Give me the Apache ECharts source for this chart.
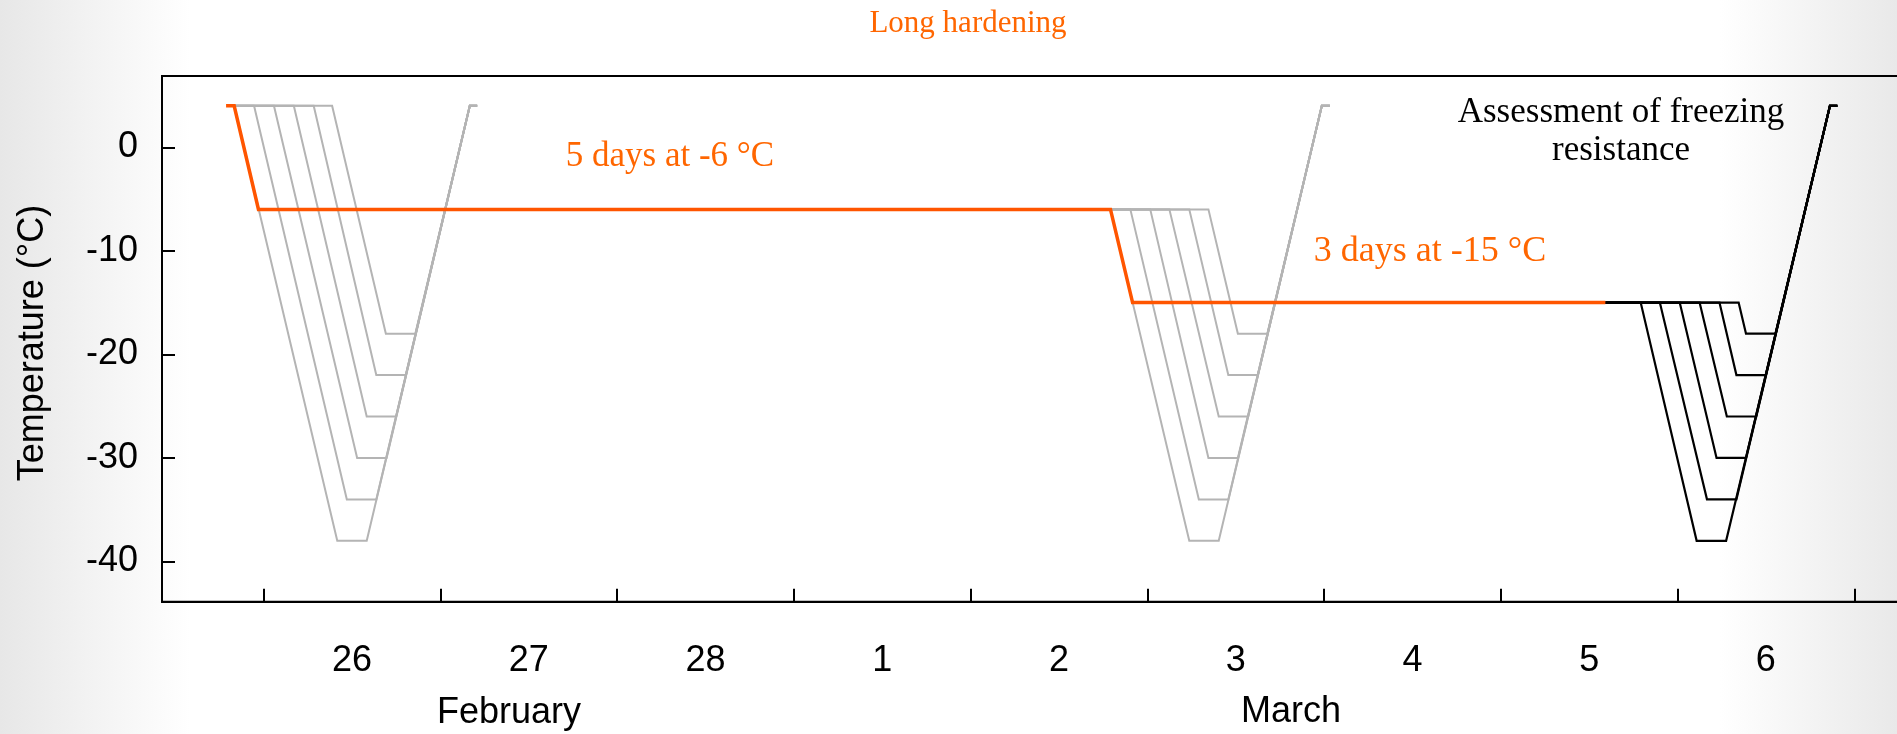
<!DOCTYPE html>
<html>
<head>
<meta charset="utf-8">
<title>Long hardening – temperature programme</title>
<script src="https://cdn.jsdelivr.net/npm/echarts@6/dist/echarts.min.js"></script>
<style>
  html, body { margin: 0; padding: 0; }
  body {
    width: 1897px; height: 734px; overflow: hidden;
    background: linear-gradient(to right, #e7e7e7 0px, #ffffff 190px, #ffffff 1720px, #e9e9e9 1897px);
  }
  #chart { width: 1897px; height: 734px; }
</style>
</head>
<body>
<div id="chart"></div>
<script>
// Time is in hours from 26 February 00:00, temperature in °C.

// Day boundaries (ticks) and day-centre label positions
const dayBoundaries = [0, 24, 48, 72, 96, 120, 144, 168, 192, 216];
const dayCentres = [12, 36, 60, 84, 108, 132, 156, 180, 204];
const dayLabels = ['26', '27', '28', '1', '2', '3', '4', '5', '6'];
const tempTicks = [-40, -30, -20, -10, 0];

// Hardening programme: 4 °C, then 5 days at -6 °C, then 3 days at -15 °C
const hardening = [[-5.1, 4], [-4.0, 4], [-0.7, -6], [115.0, -6], [118.0, -15], [182.2, -15]];

// First freezing test series (from 4 °C), target minima -38 … -18 °C
const test1 = [
  [[-4.0, 4], [10.0, -38], [14.0, -38], [28.0, 4], [29.0, 4]],
  [[-4.0, 4], [-1.3, 4], [11.3, -34], [15.3, -34], [28.0, 4], [29.0, 4]],
  [[-4.0, 4], [1.4, 4], [12.7, -30], [16.7, -30], [28.0, 4], [29.0, 4]],
  [[-4.0, 4], [4.1, 4], [14.0, -26], [18.0, -26], [28.0, 4], [29.0, 4]],
  [[-4.0, 4], [6.8, 4], [15.3, -22], [19.3, -22], [28.0, 4], [29.0, 4]],
  [[-4.0, 4], [9.3, 4], [16.6, -18], [20.6, -18], [28.0, 4], [29.0, 4]]
];

// Second freezing test series (from -6 °C)
const test2 = [
  [[115.0, -6], [125.7, -38], [129.7, -38], [143.7, 4], [144.8, 4]],
  [[115.0, -6], [117.7, -6], [127.0, -34], [131.0, -34], [143.7, 4], [144.8, 4]],
  [[115.0, -6], [120.4, -6], [128.3, -30], [132.3, -30], [143.7, 4], [144.8, 4]],
  [[115.0, -6], [123.0, -6], [129.7, -26], [133.7, -26], [143.7, 4], [144.8, 4]],
  [[115.0, -6], [125.7, -6], [131.0, -22], [135.0, -22], [143.7, 4], [144.8, 4]],
  [[115.0, -6], [128.3, -6], [132.3, -18], [136.3, -18], [143.7, 4], [144.8, 4]]
];

// Final assessment of freezing resistance (from -15 °C)
const assessment = [
  [[182.2, -15], [187.0, -15], [194.6, -38], [198.6, -38], [212.7, 4], [213.7, 4]],
  [[182.2, -15], [189.6, -15], [196.0, -34], [200.0, -34], [212.7, 4], [213.7, 4]],
  [[182.2, -15], [192.3, -15], [197.3, -30], [201.3, -30], [212.7, 4], [213.7, 4]],
  [[182.2, -15], [195.0, -15], [198.7, -26], [202.7, -26], [212.7, 4], [213.7, 4]],
  [[182.2, -15], [197.7, -15], [200.0, -22], [204.0, -22], [212.7, 4], [213.7, 4]],
  [[182.2, -15], [200.3, -15], [201.3, -18], [205.3, -18], [212.7, 4], [213.7, 4]]
];

const ORANGE_LINE = '#ff5500';
const ORANGE_TEXT = '#ff6600';
const GREY = '#b4b4b4';
const SANS = '"Liberation Sans", Arial, sans-serif';
const SERIF = '"Liberation Serif", "Times New Roman", serif';
const SANS_SIZE = 36;

function lineSeries(data, color, width, z) {
  return {
    type: 'line', data: data, symbol: 'none', z: z,
    lineStyle: { color: color, width: width, join: 'miter', cap: 'butt' },
    clip: false, silent: true
  };
}

const series = [];
test1.forEach(d => series.push(lineSeries(d, GREY, 2, 2)));
test2.forEach(d => series.push(lineSeries(d, GREY, 2, 2)));
assessment.forEach(d => series.push(lineSeries(d, '#000000', 2.2, 3)));
series.push(lineSeries(hardening, ORANGE_LINE, 3.5, 4));

const chart = echarts.init(document.getElementById('chart'), null, { renderer: 'canvas' });
chart.setOption({
  animation: false,
  backgroundColor: 'transparent',
  grid: {
    left: 162, top: 76, width: 1760, height: 525.7,
    show: true, borderColor: '#000', borderWidth: 2,
    containLabel: false, outerBoundsMode: 'none'
  },
  xAxis: {
    type: 'value', min: -13.8, max: 225.2,
    axisLine: { show: true, onZero: false, lineStyle: { color: '#000', width: 2 } },
    axisTick: { show: true, inside: true, length: 13, customValues: dayBoundaries,
                lineStyle: { color: '#000', width: 2 } },
    axisLabel: {
      show: true, customValues: dayCentres, margin: 41,
      formatter: v => dayLabels[dayCentres.indexOf(v)],
      fontSize: SANS_SIZE, fontFamily: SANS, color: '#000'
    },
    splitLine: { show: false }
  },
  yAxis: {
    type: 'value', min: -43.88, max: 6.88,
    axisLine: { show: true, onZero: false, lineStyle: { color: '#000', width: 2 } },
    axisTick: { show: true, inside: true, length: 13, customValues: tempTicks,
                lineStyle: { color: '#000', width: 2 } },
    axisLabel: {
      show: true, customValues: tempTicks, margin: 24,
      fontSize: SANS_SIZE, fontFamily: SANS, color: '#000'
    },
    splitLine: { show: false }
  },
  series: series,
  graphic: [
    { type: 'text', x: 968, y: 24, silent: true,
      style: { text: 'Long hardening', font: '31px ' + SERIF, fill: ORANGE_TEXT, align: 'center', verticalAlign: 'middle' } },
    { type: 'text', x: 670, y: 157, silent: true,
      style: { text: '5 days at -6 °C', font: '35px ' + SERIF, fill: ORANGE_TEXT, align: 'center', verticalAlign: 'middle' } },
    { type: 'text', x: 1430, y: 252, silent: true,
      style: { text: '3 days at -15 °C', font: '36px ' + SERIF, fill: ORANGE_TEXT, align: 'center', verticalAlign: 'middle' } },
    { type: 'text', x: 1621, y: 113, silent: true,
      style: { text: 'Assessment of freezing', font: '35px ' + SERIF, fill: '#000', align: 'center', verticalAlign: 'middle' } },
    { type: 'text', x: 1621, y: 151, silent: true,
      style: { text: 'resistance', font: '35px ' + SERIF, fill: '#000', align: 'center', verticalAlign: 'middle' } },
    { type: 'text', x: 509, y: 713, silent: true,
      style: { text: 'February', font: SANS_SIZE + 'px ' + SANS, fill: '#000', align: 'center', verticalAlign: 'middle' } },
    { type: 'text', x: 1291, y: 712, silent: true,
      style: { text: 'March', font: SANS_SIZE + 'px ' + SANS, fill: '#000', align: 'center', verticalAlign: 'middle' } },
    { type: 'text', x: 33, y: 343, rotation: Math.PI / 2, silent: true,
      style: { text: 'Temperature (°C)', font: SANS_SIZE + 'px ' + SANS, fill: '#000', align: 'center', verticalAlign: 'middle' } }
  ]
});
</script>
</body>
</html>
